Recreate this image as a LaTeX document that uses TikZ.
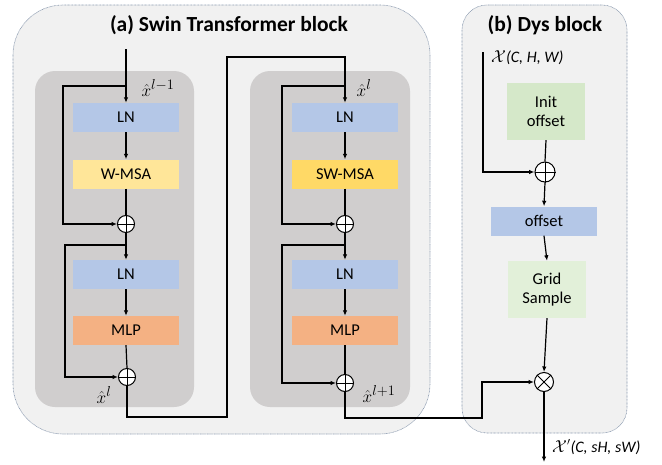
\documentclass[tikz,border=0pt]{standalone}
\usepackage{fontspec}
\setmainfont{Carlito}
\usetikzlibrary{arrows.meta}
\definecolor{panelbg}{HTML}{F1F1F1}
\definecolor{panelline}{HTML}{8C9BB0}
\definecolor{innerbg}{HTML}{D0CECE}
\definecolor{lnblue}{HTML}{B4C7E7}
\definecolor{wmsa}{HTML}{FFE699}
\definecolor{swmsa}{HTML}{FFD966}
\definecolor{mlp}{HTML}{F4B183}
\definecolor{initgreen}{HTML}{D5E8C9}
\definecolor{gridgreen}{HTML}{E2F0D9}
\begin{document}
\begin{tikzpicture}[x=1pt,y=-1pt,
  panel/.style={fill=panelbg,draw=panelline,line width=0.6pt,dash pattern=on 0.8pt off 0.6pt},
  inner/.style={fill=innerbg,draw=none,rounded corners=20pt},
  blk/.style={draw=none,minimum width=106pt,minimum height=29pt,inner sep=0pt,font=\fontsize{16.5}{18}\selectfont},
  gbox/.style={draw=none,minimum width=78pt,minimum height=57pt,inner sep=0pt,align=center,font=\fontsize{16.5}{19.5}\selectfont},
  op/.style={circle,draw=black,fill=white,line width=1pt,minimum size=17pt,inner sep=0pt},
  wire/.style={line width=1.2pt},
  arr/.style={wire,-{Latex[length=5.5pt,width=4.5pt]}},
  lbl/.style={font=\fontsize{19}{21}\selectfont,inner sep=0pt},
  tlbl/.style={font=\fontsize{16}{18}\selectfont,inner sep=0pt},
  ttl/.style={font=\bfseries\fontsize{21.5}{23}\selectfont,inner sep=0pt}]
\useasboundingbox (0,0) rectangle (662,464);

% outer panels
\draw[panel,rounded corners=50pt] (13,5) rectangle (430,434);
\draw[panel,rounded corners=25pt] (462,5) rectangle (627,433);
\node[ttl] (ta) at (229,25) {(a) Swin Transformer block};
\node[ttl] (tb) at (545,25) {(b) Dys block};

% inner stages
\fill[inner] (35,71) rectangle (194,407);
\fill[inner] (250,71) rectangle (410,407);

% left stage
\node[blk,fill=lnblue] (ln1) at (126,117.5) {LN};
\node[blk,fill=wmsa] (msa1) at (126,174) {W-MSA};
\node[op] (p1) at (126,224) {};
\node[blk,fill=lnblue] (ln2) at (126,274.5) {LN};
\node[blk,fill=mlp] (mlp1) at (126,330.5) {MLP};
\node[op] (p2) at (127,377) {};

% right stage
\node[blk,fill=lnblue] (ln3) at (345,117.5) {LN};
\node[blk,fill=swmsa] (msa2) at (345,174) {SW-MSA};
\node[op] (p3) at (345,224) {};
\node[blk,fill=lnblue] (ln4) at (345,274.5) {LN};
\node[blk,fill=mlp] (mlp2) at (345,330.5) {MLP};
\node[op] (p4) at (345,383) {};

% dys block
\node[gbox,fill=initgreen] (init) at (546,111.5) {Init\\offset};
\node[op,minimum size=20pt] (pd) at (545,172) {};
\node[blk,fill=lnblue] (off) at (544,221) {offset};
\node[gbox,fill=gridgreen] (grid) at (547,289.5) {Grid\\Sample};
\node[op,minimum size=19pt] (ot) at (544,382) {};

% operator glyphs
\foreach \n in {p1,p2,p3,p4,pd}
  \draw[line width=1pt] (\n.north) -- (\n.south) (\n.west) -- (\n.east);
\draw[line width=1pt] (ot.north east) -- (ot.south west) (ot.north west) -- (ot.south east);

% coordinates of branches and bends
\coordinate (inL) at (126,49);
\coordinate (bL1) at (126,86);
\coordinate (sL1) at (63,86);
\coordinate (bL2) at (126,245);
\coordinate (sL2) at (65,245);
\coordinate (c1) at (227,417);
\coordinate (c2) at (227,57);
\coordinate (bR1) at (345,86);
\coordinate (sR1) at (282,86);
\coordinate (bR2) at (345,245);
\coordinate (sR2) at (282,245);
\coordinate (d1) at (482,418);
\coordinate (d2) at (482,382);
\coordinate (xin) at (483,52);
\coordinate (xout) at (544,462);

% left stage wiring
\draw[arr] (inL) -- (ln1.north);
\draw[arr] (bL1) -- (sL1) |- (p1.west);
\draw[arr] (ln1.south) -- (msa1.north);
\draw[wire] (msa1.south) -- (p1.north);
\draw[arr] (p1.south) -- (ln2.north);
\draw[arr] (bL2) -- (sL2) |- (p2.west);
\draw[arr] (ln2.south) -- (mlp1.north);
\draw[wire] (mlp1.south) -- (p2.north);
\draw[arr] (p2.south) |- (c1) -- (c2) -| (ln3.north);

% right stage wiring
\draw[arr] (bR1) -- (sR1) |- (p3.west);
\draw[arr] (ln3.south) -- (msa2.north);
\draw[wire] (msa2.south) -- (p3.north);
\draw[arr] (p3.south) -- (ln4.north);
\draw[arr] (bR2) -- (sR2) |- (p4.west);
\draw[arr] (ln4.south) -- (mlp2.north);
\draw[wire] (mlp2.south) -- (p4.north);
\draw[arr] (p4.south) |- (d1) -- (d2) -- (ot.west);

% dys wiring
\draw[arr] (xin) |- (pd.west);
\draw[wire] (init.south) -- (pd.north);
\draw[arr] (pd.south) -- (off.north);
\draw[arr] (off.south) -- (grid.north);
\draw[arr] (grid.south) -- (ot.north);
\draw[arr] (ot.south) -- (xout);

% labels
\node[lbl] (l1) at (158,88) {$\hat{x}^{l-1}$};
\node[lbl] (l2) at (364,88) {$\hat{x}^{l}$};
\node[lbl] (l3) at (104,395) {$\hat{x}^{l}$};
\node[lbl] (l4) at (379,394) {$\hat{x}^{l+1}$};
\node[tlbl,anchor=west] (l5) at (491,58) {$\mathcal{X}$\textit{(C, H, W)}};
\node[tlbl,anchor=west] (l6) at (552,447) {$\mathcal{X}'$\textit{(C, sH, sW)}};
\end{tikzpicture}
\end{document}
